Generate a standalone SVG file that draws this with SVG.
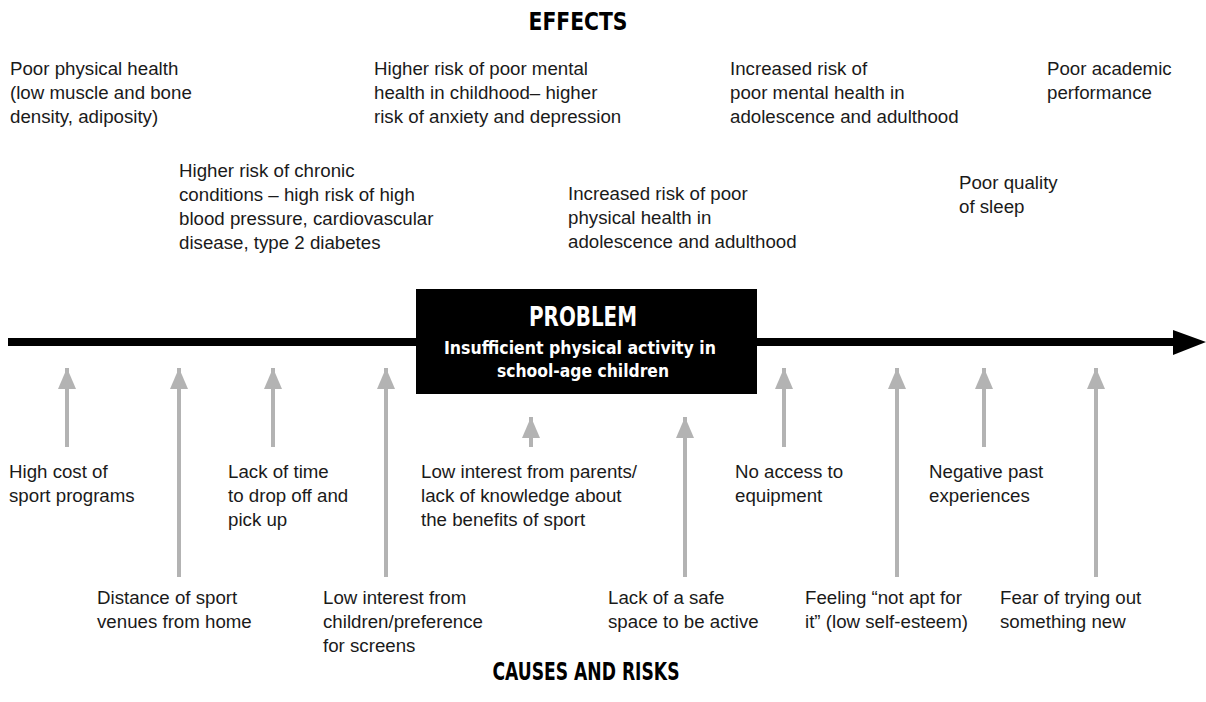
<svg xmlns="http://www.w3.org/2000/svg" width="1206" height="702" viewBox="0 0 1206 702">
  <style>
    .t { font-family: "Liberation Sans", Arial, sans-serif; font-size: 18.7px; fill: #1a1a1a; }
    .h { font-family: "Liberation Sans Narrow", "DejaVu Sans Condensed", "Liberation Sans", sans-serif; font-weight: bold; text-anchor: middle; }
    .head { font-size: 24px; fill: #000; }
    .up { stroke: #b3b3b3; stroke-width: 4; fill: none; }
  </style>
  <defs>
    <!-- grey arrowhead, drawn along +x so orient="auto" points it along the line -->
    <marker id="grey-tip" viewBox="0 0 21 18" refX="21" refY="9" markerWidth="21" markerHeight="18" markerUnits="userSpaceOnUse" orient="auto">
      <path d="M21 9 L0 0 L0 18 Z" fill="#b3b3b3"/>
    </marker>
  </defs>
  <rect width="1206" height="702" fill="#fff"/>

  <!-- section titles -->
  <text class="h head" x="578" y="30" textLength="99" lengthAdjust="spacingAndGlyphs">EFFECTS</text>
  <text class="h head" x="586" y="680" textLength="187" lengthAdjust="spacingAndGlyphs">CAUSES AND RISKS</text>

  <!-- main axis -->
  <g id="axis">
    <rect x="8" y="338" width="1167" height="8" fill="#000"/>
    <path d="M1173 330 L1206 342 L1173 355 Z" fill="#000"/>
  </g>

  <!-- cause connectors -->
  <g id="connectors">
    <line class="up" x1="67" y1="447" x2="67" y2="368" marker-end="url(#grey-tip)"/>
    <line class="up" x1="179" y1="577" x2="179" y2="368" marker-end="url(#grey-tip)"/>
    <line class="up" x1="273" y1="447" x2="273" y2="368" marker-end="url(#grey-tip)"/>
    <line class="up" x1="386" y1="577" x2="386" y2="368" marker-end="url(#grey-tip)"/>
    <line class="up" x1="531" y1="447" x2="531" y2="417" marker-end="url(#grey-tip)"/>
    <line class="up" x1="685" y1="577" x2="685" y2="417" marker-end="url(#grey-tip)"/>
    <line class="up" x1="784" y1="447" x2="784" y2="368" marker-end="url(#grey-tip)"/>
    <line class="up" x1="897" y1="577" x2="897" y2="368" marker-end="url(#grey-tip)"/>
    <line class="up" x1="984" y1="447" x2="984" y2="368" marker-end="url(#grey-tip)"/>
    <line class="up" x1="1096" y1="577" x2="1096" y2="368" marker-end="url(#grey-tip)"/>
  </g>

  <!-- central problem -->
  <g id="problem">
    <rect x="416" y="289" width="341" height="105" fill="#000"/>
    <text class="h" x="583" y="326" font-size="26" fill="#fff" textLength="108" lengthAdjust="spacingAndGlyphs">PROBLEM</text>
    <text class="h" x="580" y="354" font-size="18.5" fill="#fff" textLength="272" lengthAdjust="spacingAndGlyphs">Insufficient physical activity in</text>
    <text class="h" x="583" y="377" font-size="18.5" fill="#fff" textLength="172" lengthAdjust="spacingAndGlyphs">school-age children</text>
  </g>

  <!-- effects -->
  <g id="effect-physical">
    <text class="t" x="10" y="75">Poor physical health</text>
    <text class="t" x="10" y="99">(low muscle and bone</text>
    <text class="t" x="10" y="123">density, adiposity)</text>
  </g>
  <g id="effect-mental-child">
    <text class="t" x="374" y="75">Higher risk of poor mental</text>
    <text class="t" x="374" y="99">health in childhood– higher</text>
    <text class="t" x="374" y="123">risk of anxiety and depression</text>
  </g>
  <g id="effect-mental-adult">
    <text class="t" x="730" y="75">Increased risk of</text>
    <text class="t" x="730" y="99">poor mental health in</text>
    <text class="t" x="730" y="123">adolescence and adulthood</text>
  </g>
  <g id="effect-academic">
    <text class="t" x="1047" y="75">Poor academic</text>
    <text class="t" x="1047" y="99">performance</text>
  </g>
  <g id="effect-chronic">
    <text class="t" x="179" y="177">Higher risk of chronic</text>
    <text class="t" x="179" y="201">conditions – high risk of high</text>
    <text class="t" x="179" y="225">blood pressure, cardiovascular</text>
    <text class="t" x="179" y="249">disease, type 2 diabetes</text>
  </g>
  <g id="effect-physical-adult">
    <text class="t" x="568" y="200">Increased risk of poor</text>
    <text class="t" x="568" y="224">physical health in</text>
    <text class="t" x="568" y="248">adolescence and adulthood</text>
  </g>
  <g id="effect-sleep">
    <text class="t" x="959" y="189">Poor quality</text>
    <text class="t" x="959" y="213">of sleep</text>
  </g>

  <!-- causes, upper row -->
  <g id="cause-cost">
    <text class="t" x="9" y="478">High cost of</text>
    <text class="t" x="9" y="502">sport programs</text>
  </g>
  <g id="cause-time">
    <text class="t" x="228" y="478">Lack of time</text>
    <text class="t" x="228" y="502">to drop off and</text>
    <text class="t" x="228" y="526">pick up</text>
  </g>
  <g id="cause-parents">
    <text class="t" x="421" y="478">Low interest from parents/</text>
    <text class="t" x="421" y="502">lack of knowledge about</text>
    <text class="t" x="421" y="526">the benefits of sport</text>
  </g>
  <g id="cause-equipment">
    <text class="t" x="735" y="478">No access to</text>
    <text class="t" x="735" y="502">equipment</text>
  </g>
  <g id="cause-past">
    <text class="t" x="929" y="478">Negative past</text>
    <text class="t" x="929" y="502">experiences</text>
  </g>

  <!-- causes, lower row -->
  <g id="cause-distance">
    <text class="t" x="97" y="604">Distance of sport</text>
    <text class="t" x="97" y="628">venues from home</text>
  </g>
  <g id="cause-screens">
    <text class="t" x="323" y="604">Low interest from</text>
    <text class="t" x="323" y="628">children/preference</text>
    <text class="t" x="323" y="652">for screens</text>
  </g>
  <g id="cause-space">
    <text class="t" x="608" y="604">Lack of a safe</text>
    <text class="t" x="608" y="628">space to be active</text>
  </g>
  <g id="cause-esteem">
    <text class="t" x="805" y="604">Feeling “not apt for</text>
    <text class="t" x="805" y="628">it” (low self-esteem)</text>
  </g>
  <g id="cause-fear">
    <text class="t" x="1000" y="604">Fear of trying out</text>
    <text class="t" x="1000" y="628">something new</text>
  </g>
</svg>
